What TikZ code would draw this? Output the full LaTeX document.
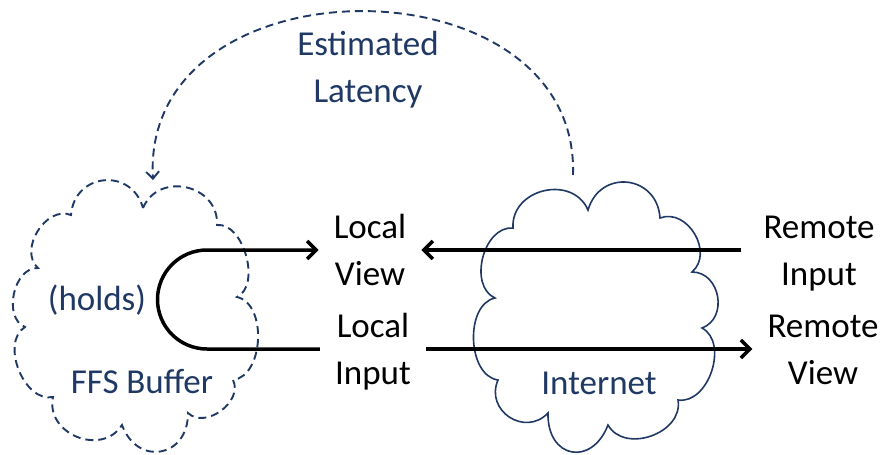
\documentclass[tikz,border=0pt]{standalone}
\usepackage{fontspec}
\setmainfont{Carlito}
\usetikzlibrary{arrows.meta}
\definecolor{navy}{RGB}{31,56,100}
\begin{document}
\begin{tikzpicture}[x=1pt,y=1pt,
  lbl/.style={font=\fontsize{35}{47}\selectfont, align=center, inner sep=0pt, anchor=base},
  bluelbl/.style={lbl, text=navy},
  sidelbl/.style={lbl, inner xsep=15pt},
  flow/.style={line width=3.5pt, -{Straight Barb[length=9pt,width=18pt]}},
  latency/.style={navy, line width=1.9pt, dash pattern=on 8pt off 5pt, -{Straight Barb[length=7pt,width=13pt]}},
  buffercloud/.style={navy, line width=1.9pt, dash pattern=on 8pt off 5pt},
  netcloud/.style={navy, line width=1.6pt},
  puff/.style={bend left=80, looseness=#1}
]
\useasboundingbox (0,0) rectangle (881,-455);

% FFS buffer cloud (dashed)
\draw[buffercloud] (143,-208) to[puff=1.36] (217,-225) to[puff=0.92] (237,-297)
  to[puff=0.96] (233,-380) to[puff=1.1] (188,-413) to[puff=1.7] (122,-425)
  to[puff=1.3] (53,-397) to[puff=1.0] (25,-327) to[puff=1.03] (38,-268)
  to[puff=1.1] (71,-215) to[puff=1.5] cycle;

% Internet cloud
\draw[netcloud] (588,-210) to[puff=1.53] (660,-218) to[puff=1.2] (692,-272)
  to[puff=1.27] (702,-328) to[puff=1.04] (678,-400) to[puff=1.16] (608,-425)
  to[puff=1.9] (548,-413) to[puff=1.43] (498,-380) to[puff=0.97] (495,-298)
  to[puff=1.05] (513,-228) to[puff=1.3] cycle;

% labels (base = baseline of the last line)
\node[bluelbl] (est) at (368,-102) {Estimated\\Latency};
\node[bluelbl] (holds) at (97,-310) {(holds)};
\node[bluelbl] (ffs) at (142,-393) {FFS Buffer};
\node[bluelbl] (net) at (599,-394) {Internet};
\node[sidelbl] (lv) at (370,-285) {Local\\View};
\node[sidelbl] (li) at (373,-384) {Local\\Input};
\node[sidelbl] (ri) at (819,-285) {Remote\\Input};
\node[sidelbl] (rv) at (823,-384) {Remote\\View};

\coordinate (yTop) at (0,-250);
\coordinate (yBot) at (0,-349);
\coordinate (uturn) at (207,-299.5);
\coordinate (latFrom) at (573,-175);
\coordinate (latTo) at (153,-180);

% connectors
\draw[flow] ([xshift=-7pt]ri.west |- yTop) -- (lv.east |- yTop);
\draw[flow] (li.east |- yBot) -- (rv.west |- yBot);
\draw[flow] (li.west |- yBot) -- (uturn |- yBot)
  arc[start angle=270, end angle=90, radius=49.5] -- (lv.west |- yTop);
\draw[latency] (latFrom) .. controls (580,44) and (141,44) .. (latTo);
\end{tikzpicture}
\end{document}
